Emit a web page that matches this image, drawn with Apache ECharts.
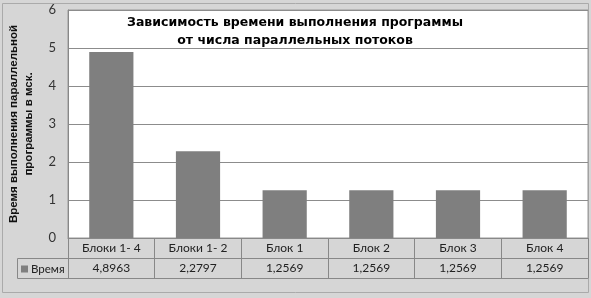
<!DOCTYPE html>
<html lang="ru">
  <head>
    <meta charset="UTF-8" />
    <title>Зависимость времени выполнения</title>
    <script src="https://cdn.jsdelivr.net/npm/echarts@6/dist/echarts.min.js"></script>
    <style>
      html, body { margin: 0; padding: 0; background: #d6d6d6; }
      #main { width: 591px; height: 298px; }
    </style>
  </head>
  <body>
    <div id="main"></div>
    <script>
      var categories = ["Блоки 1- 4", "Блоки 1- 2", "Блок 1", "Блок 2", "Блок 3", "Блок 4"];
      var times = [4.8963, 2.2797, 1.2569, 1.2569, 1.2569, 1.2569];
      var timeLabels = ["4,8963", "2,2797", "1,2569", "1,2569", "1,2569", "1,2569"];
      var yTicks = [0, 1, 2, 3, 4, 5, 6];

      var chart = echarts.init(document.getElementById("main"));
      var labelFont = "Lato, 'Liberation Sans', sans-serif";

      var option = {
        backgroundColor: "#d6d6d6",
        animation: false,
        title: {
          text: "Зависимость времени выполнения программы\nот числа параллельных потоков",
          left: 295,
          textAlign: "center",
          top: 14,
          padding: 0,
          textStyle: {
            fontFamily: "'DejaVu Sans', Arial, sans-serif",
            fontWeight: "bold",
            fontSize: 12.5,
            lineHeight: 18,
            color: "#000"
          }
        },
        legend: {
          left: 21,
          top: 263,
          padding: 0,
          icon: "rect",
          itemWidth: 7,
          itemHeight: 7,
          data: ["Время"],
          textStyle: { fontFamily: labelFont, fontSize: 11.5, color: "#222", padding: [0, 0, 0, -2] }
        },
        grid: {
          left: 68,
          right: 3,
          top: 10,
          bottom: 60,
          outerBoundsMode: "none",
          containLabel: false,
          show: true,
          backgroundColor: "#fff",
          borderColor: "#999",
          borderWidth: 1
        },
        xAxis: [
          {
            type: "category",
            data: categories,
            axisLine: { lineStyle: { color: "#888" } },
            axisTick: { show: true, length: 40, lineStyle: { color: "#888" } },
            axisLabel: { fontFamily: labelFont, fontSize: 12, color: "#222", margin: 4 }
          },
          {
            type: "category",
            data: timeLabels,
            position: "bottom",
            offset: 20,
            axisLine: { lineStyle: { color: "#888" } },
            axisTick: { show: false },
            axisLabel: { fontFamily: labelFont, fontSize: 12, color: "#222", margin: 4 }
          },
          {
            type: "category",
            data: timeLabels,
            position: "bottom",
            offset: 40,
            axisLine: { lineStyle: { color: "#888" } },
            axisTick: { show: false },
            axisLabel: { show: false }
          }
        ],
        yAxis: {
          type: "value",
          min: yTicks[0],
          max: yTicks[yTicks.length - 1],
          interval: 1,
          name: "Время выполнения параллельной\nпрограммы в мск.",
          nameLocation: "middle",
          nameGap: 32,
          nameRotate: 90,
          nameTextStyle: {
            fontFamily: "'Liberation Sans', Arial, sans-serif",
            fontWeight: "bold",
            fontSize: 11.5,
            lineHeight: 15,
            color: "#111"
          },
          axisLine: { show: true, lineStyle: { color: "#888" } },
          axisTick: { show: false },
          axisLabel: { fontFamily: labelFont, fontSize: 13, color: "#333", margin: 12 },
          splitLine: { lineStyle: { color: "#8c8c8c" } }
        },
        series: [
          {
            name: "Время",
            type: "bar",
            data: times,
            barWidth: "51%",
            itemStyle: { color: "#7f7f7f" }
          }
        ],
        graphic: [
          {
            type: "polyline",
            shape: { points: [[68, 258.5], [17.5, 258.5], [17.5, 278.5], [68, 278.5]] },
            style: { stroke: "#888", fill: null, lineWidth: 1 }
          },
          {
            type: "rect",
            shape: { x: 2.5, y: 3.5, width: 586, height: 289 },
            style: { stroke: "#aaa", fill: null, lineWidth: 1 },
            z: -1
          }
        ]
      };
      chart.setOption(option);
    </script>
  </body>
</html>
